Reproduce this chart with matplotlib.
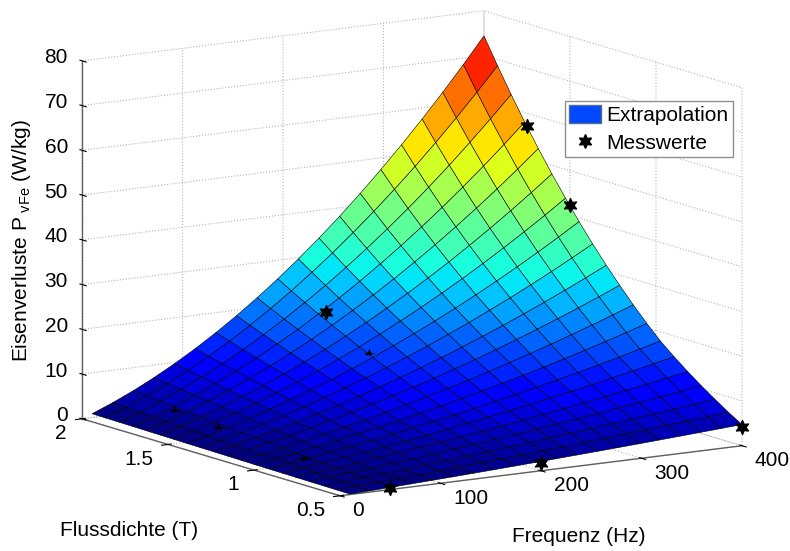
import numpy as np
import matplotlib
matplotlib.use('Agg')
import matplotlib.pyplot as plt
from matplotlib.lines import Line2D
from matplotlib.patches import Patch
from mpl_toolkits.mplot3d import proj3d

plt.rcParams['font.family'] = ['Liberation Sans', 'DejaVu Sans']
plt.rcParams['mathtext.fontset'] = 'custom'
plt.rcParams['mathtext.rm'] = 'Liberation Sans'
plt.rcParams['grid.color'] = '#b4b4b4'
plt.rcParams['grid.linestyle'] = ':'
plt.rcParams['grid.linewidth'] = 0.8

# Frequenz [Hz] und Flussdichte [T] der Flaeche
freq = [10.0, 30.53, 51.05, 71.58, 92.11, 112.63, 133.16, 153.68, 174.21, 194.74,
        215.26, 235.79, 256.32, 276.84, 297.37, 317.89, 338.42, 358.95, 379.47, 400.0]
flux = [0.5, 0.579, 0.658, 0.737, 0.816, 0.895, 0.974, 1.053, 1.132, 1.211,
        1.289, 1.368, 1.447, 1.526, 1.605, 1.684, 1.763, 1.842, 1.921, 2.0]

# Eisenverluste [W/kg], eine Zeile je Flussdichte
verluste = [
    [0.09, 0.28, 0.48, 0.68, 0.89, 1.10, 1.32, 1.55, 1.78, 2.02, 2.27, 2.52, 2.77, 3.04, 3.30, 3.58, 3.86, 4.15, 4.44, 4.74],
    [0.12, 0.39, 0.66, 0.93, 1.22, 1.52, 1.82, 2.14, 2.46, 2.79, 3.13, 3.48, 3.84, 4.20, 4.58, 4.96, 5.35, 5.76, 6.17, 6.58],
    [0.16, 0.49, 0.84, 1.20, 1.57, 1.95, 2.35, 2.76, 3.18, 3.61, 4.05, 4.51, 4.98, 5.46, 5.95, 6.46, 6.97, 7.50, 8.05, 8.60],
    [0.19, 0.60, 1.02, 1.46, 1.91, 2.39, 2.87, 3.38, 3.90, 4.44, 4.99, 5.56, 6.14, 6.75, 7.37, 8.00, 8.65, 9.32, 10.00, 10.70],
    [0.23, 0.70, 1.20, 1.73, 2.27, 2.83, 3.42, 4.02, 4.65, 5.30, 5.97, 6.66, 7.38, 8.11, 8.87, 9.65, 10.44, 11.26, 12.11, 12.97],
    [0.26, 0.81, 1.39, 2.00, 2.63, 3.29, 3.98, 4.69, 5.43, 6.20, 7.00, 7.82, 8.67, 9.55, 10.45, 11.38, 12.34, 13.33, 14.34, 15.38],
    [0.29, 0.92, 1.58, 2.27, 3.00, 3.76, 4.56, 5.39, 6.25, 7.15, 8.07, 9.04, 10.04, 11.07, 12.13, 13.23, 14.36, 15.53, 16.73, 17.96],
    [0.33, 1.05, 1.80, 2.60, 3.44, 4.32, 5.24, 6.20, 7.20, 8.25, 9.34, 10.46, 11.63, 12.84, 14.10, 15.39, 16.72, 18.10, 19.52, 20.98],
    [0.38, 1.18, 2.04, 2.94, 3.90, 4.91, 5.96, 7.07, 8.23, 9.43, 10.69, 11.99, 13.35, 14.75, 16.21, 17.71, 19.27, 20.87, 22.53, 24.23],
    [0.42, 1.32, 2.28, 3.30, 4.38, 5.51, 6.71, 7.97, 9.29, 10.66, 12.10, 13.59, 15.15, 16.76, 18.44, 20.17, 21.96, 23.81, 25.72, 27.70],
    [0.46, 1.45, 2.51, 3.65, 4.85, 6.12, 7.46, 8.88, 10.36, 11.91, 13.53, 15.23, 16.99, 18.82, 20.72, 22.69, 24.74, 26.85, 29.03, 31.28],
    [0.50, 1.59, 2.76, 4.01, 5.35, 6.76, 8.26, 9.84, 11.49, 13.24, 15.06, 16.96, 18.95, 21.02, 23.17, 25.40, 27.71, 30.11, 32.59, 35.14],
    [0.54, 1.73, 3.01, 4.38, 5.85, 7.41, 9.07, 10.82, 12.67, 14.61, 16.65, 18.78, 21.00, 23.32, 25.73, 28.24, 30.84, 33.54, 36.33, 39.22],
    [0.59, 1.87, 3.27, 4.77, 6.38, 8.10, 9.93, 11.86, 13.91, 16.06, 18.32, 20.69, 23.17, 25.75, 28.45, 31.25, 34.17, 37.19, 40.31, 43.55],
    [0.63, 2.01, 3.52, 5.15, 6.91, 8.79, 10.79, 12.92, 15.17, 17.54, 20.04, 22.66, 25.40, 28.27, 31.26, 34.38, 37.61, 40.98, 44.46, 48.07],
    [0.67, 2.16, 3.78, 5.55, 7.45, 9.50, 11.68, 14.01, 16.47, 19.08, 21.82, 24.71, 27.73, 30.90, 34.20, 37.65, 41.24, 44.96, 48.83, 52.83],
    [0.72, 2.30, 4.05, 5.95, 8.01, 10.23, 12.60, 15.14, 17.83, 20.68, 23.68, 26.85, 30.17, 33.65, 37.29, 41.08, 45.04, 49.15, 53.42, 57.85],
    [0.76, 2.45, 4.31, 6.36, 8.58, 10.98, 13.55, 16.30, 19.23, 22.33, 25.61, 29.07, 32.71, 36.52, 40.51, 44.67, 49.01, 53.54, 58.23, 63.10],
    [0.80, 2.60, 4.59, 6.78, 9.16, 11.74, 14.52, 17.50, 20.68, 24.05, 27.62, 31.38, 35.35, 39.51, 43.87, 48.42, 53.17, 58.13, 63.27, 68.62],
    [0.85, 2.75, 4.86, 7.20, 9.76, 12.53, 15.53, 18.74, 22.18, 25.83, 29.70, 33.79, 38.10, 42.63, 47.38, 52.34, 57.53, 62.93, 68.56, 74.40],
]

# Messwerte, die ganz sichtbar sind
mess_f = [50, 200, 400, 400, 400, 200]
mess_b = [0.5, 0.5, 0.5, 1.5, 1.75, 1.75]
mess_p = [0.4, 1.7, 4.3, 42.4, 57.2, 21.2]
# Messwerte, die fast ganz in der Flaeche stecken
halb_f = [50, 50, 50, 200]
halb_b = [1.0, 1.5, 1.75, 1.5]
halb_p = [1.5, 2.8, 3.7, 15.0]
# nur noch als Punkt zu sehen
rest_f = [200]
rest_b = [1.0]
rest_p = [7.0]

f_ticks = [0, 100, 200, 300, 400]
b_ticks = [0.5, 1, 1.5, 2]
b_labels = ['0.5', '1', '1.5', '2']
p_ticks = [0, 10, 20, 30, 40, 50, 60, 70, 80]

W, H = 790, 551
fig = plt.figure(figsize=(W / 100, H / 100), dpi=100)
ax = fig.add_axes([29.7 / W, -84.6 / H, 744.5 / W, 744.5 / H], projection='3d')
ax.set_proj_type('ortho')
ax.view_init(elev=11.11, azim=-122.86)
ax.set_box_aspect((478.5, 475.5, 364.8))
ax.computed_zorder = False

F, B = np.meshgrid(freq, flux)
Z = np.array(verluste)
jet = plt.get_cmap('jet', 64)
farben = jet(plt.Normalize(0, 73.5)(Z))
ax.plot_surface(F, B, Z, facecolors=farben, rstride=1, cstride=1, shade=False,
                edgecolor='#000000', linewidth=0.4, antialiased=True, zorder=2)

stern = (6, 1, 0)
keil = [(-0.9, -0.1), (-0.3, -0.05), (0, 0.6), (0.3, -0.1), (1, -0.2), (0.2, -0.45), (-0.5, -0.5)]
ax.scatter(mess_f, mess_b, mess_p, marker=stern, s=100, c='k', depthshade=False, zorder=3)
ax.scatter(halb_f, halb_b, halb_p, marker=keil, s=70, c='k', linewidths=0, depthshade=False, zorder=3)
ax.scatter(rest_f, rest_b, rest_p, marker=stern, s=4, c='k', linewidths=0, depthshade=False, zorder=3)

ax.set_xlim(0, 400)
ax.set_ylim(0.5, 2)
ax.set_zlim(0, 80)
ax.set_xticks(f_ticks)
ax.set_yticks(b_ticks)
ax.set_zticks(p_ticks)


def beschrift(x, y, z, s, ha):
    # 3D-Punkt auf die Zeichenebene abbilden, damit der Text dort fest sitzt
    xp, yp, _ = proj3d.proj_transform(x, y, z, ax.get_proj())
    ax.text2D(xp, yp, s, transform=ax.transData, fontsize=15, ha=ha, va='center', color='k')


# Beschriftungen sitzen wie im Original neben der Achse
for f in f_ticks:
    beschrift(f, 0.427, -2.5, str(f), 'left')
for b, s in zip(b_ticks, b_labels):
    beschrift(-15, b, -2.9, s, 'right')
for p in p_ticks:
    beschrift(-14, 2, p + 1.07, str(p), 'right')

for achse in (ax.xaxis, ax.yaxis, ax.zaxis):
    achse.set_pane_color((1, 1, 1, 0))
    achse.pane.set_edgecolor('none')
    achse.line.set_color('#606060')
    achse.line.set_linewidth(1.0)
    achse._axinfo['tick']['color'] = '#606060'
    achse._axinfo['tick']['linewidth'] = {True: 0.8, False: 0.5}
    achse.label.set_visible(False)
    achse.offsetText.set_visible(False)
    for t in achse.get_major_ticks():
        t.label1.set_visible(False)
        t.label2.set_visible(False)

# z-Striche laufen wie im Original entlang der Flussdichte
ax.zaxis._get_tickdir = lambda pos='default': 1

griffe = [Patch(facecolor='#0048ff', edgecolor='#5a6a8a', label='Extrapolation'),
          Line2D([], [], marker=stern, color='k', linestyle='none', markersize=10, label='Messwerte')]
fig.legend(handles=griffe, loc='upper left', bbox_to_anchor=(565 / W, 1 - 100.5 / H), fontsize=15,
           fancybox=False, edgecolor='#909090', framealpha=1, borderaxespad=0, labelspacing=0.35,
           handlelength=1.55, handleheight=1.0, handletextpad=0.25, borderpad=0.2)

fig.text(22 / W, 1 - 241 / H, 'Eisenverluste P$_{\\ \\mathrm{vFe}}$ (W/kg)', rotation=90,
         fontsize=15, ha='center', va='center')
fig.text(129 / W, 1 - 531 / H, 'Flussdichte (T)', fontsize=15, ha='center', va='center')
fig.text(579 / W, 1 - 537 / H, 'Frequenz (Hz)', fontsize=15, ha='center', va='center')

fig.savefig('out.png', dpi=100)
